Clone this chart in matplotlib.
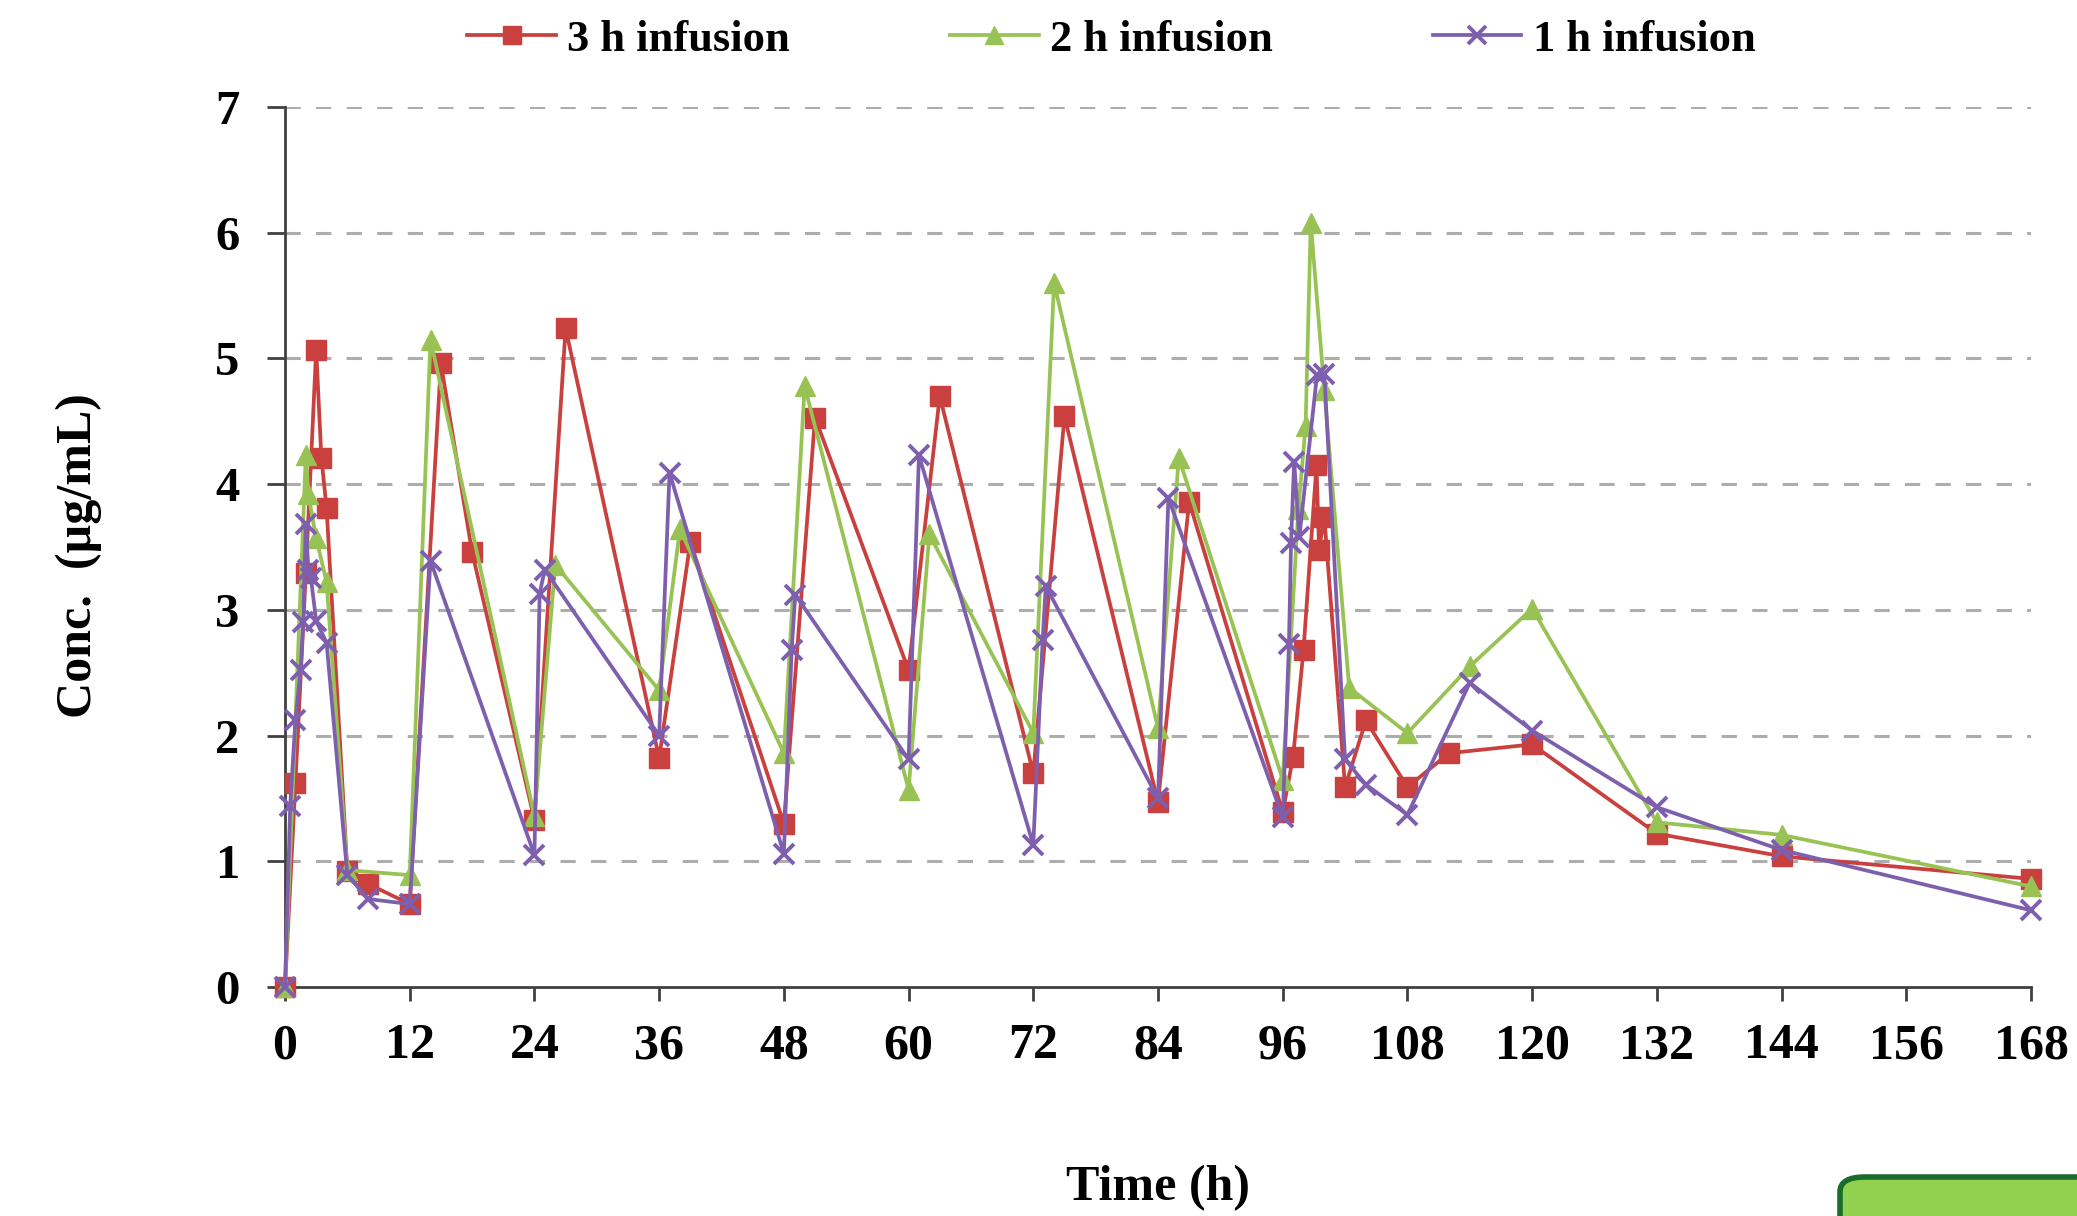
import matplotlib
matplotlib.use("Agg")
import matplotlib.pyplot as plt
from matplotlib.patches import FancyBboxPatch

# ---------------- data ----------------
t_3h = [0, 1, 2, 3, 3.5, 4, 6, 8, 12, 15, 18, 24, 27, 36, 39, 48, 51, 60, 63, 72, 75,
        84, 87, 96, 97, 98, 99.25, 99.5, 100, 102, 104, 108, 112, 120, 132, 144, 168]
c_3h = [0, 1.62, 3.29, 5.07, 4.21, 3.81, 0.92, 0.82, 0.66, 4.96, 3.46, 1.33, 5.24, 1.82, 3.54,
        1.30, 4.53, 2.52, 4.70, 1.70, 4.54, 1.47, 3.86, 1.39, 1.83, 2.68, 4.15, 3.48, 3.74,
        1.59, 2.12, 1.59, 1.86, 1.93, 1.22, 1.04, 0.86]

t_2h = [0, 2, 2.25, 3, 4, 6, 12, 14, 24, 26, 36, 38, 48, 50, 60, 62, 72, 74, 84, 86,
        96, 97.5, 98.2, 98.7, 100, 102.4, 108, 114, 120, 132, 144, 168]
c_2h = [0, 4.23, 3.92, 3.57, 3.22, 0.93, 0.89, 5.15, 1.36, 3.36, 2.36, 3.64, 1.86, 4.78,
        1.57, 3.60, 2.02, 5.60, 2.06, 4.21, 1.65, 3.80, 4.46, 6.08, 4.75, 2.38, 2.02, 2.55,
        3.01, 1.31, 1.21, 0.80]

t_1h = [0, 0.5, 1, 1.5, 1.75, 2, 2.25, 2.5, 3, 4, 6, 8, 12, 14, 24, 24.5, 25, 36, 37,
        48, 48.75, 49.1, 60, 61, 72, 72.9, 73.2, 84, 85, 96, 96.6, 96.8, 97.1, 97.6,
        99.3, 100, 102, 104, 108, 114, 120, 132, 144, 168]
c_1h = [0, 1.44, 2.12, 2.52, 2.90, 3.68, 3.32, 3.25, 2.91, 2.74, 0.89, 0.70, 0.66, 3.39,
        1.05, 3.13, 3.32, 2.00, 4.09, 1.06, 2.68, 3.12, 1.81, 4.23, 1.13, 2.76, 3.19,
        1.50, 3.89, 1.35, 2.73, 3.53, 4.18, 3.58, 4.87, 4.88, 1.81, 1.61, 1.37, 2.42,
        2.04, 1.43, 1.09, 0.61]

series_labels = ["3 h infusion", "2 h infusion", "1 h infusion"]
x_ticks = list(range(0, 169, 12))
y_ticks = list(range(0, 8))

# ---------------- style ----------------
plt.rcParams['font.family'] = ['Liberation Serif', 'DejaVu Serif']
plt.rcParams['font.weight'] = 'bold'

RED = '#C9403E'
GREEN = '#98C354'
PURPLE = '#7D5FAE'

W, H = 2077, 1216
fig = plt.figure(figsize=(W / 100, H / 100), dpi=100)
ax = fig.add_axes([285 / W, 229 / H, (2031 - 285) / W, (987 - 107) / H])

lw = 2.7
ax.plot(t_3h, c_3h, color=RED, lw=lw, marker='s', markersize=14,
        markerfacecolor=RED, markeredgecolor=RED, label=series_labels[0],
        clip_on=False, zorder=3)
ax.plot(t_2h, c_2h, color=GREEN, lw=lw, marker='^', markersize=15,
        markerfacecolor=GREEN, markeredgecolor=GREEN, label=series_labels[1],
        clip_on=False, zorder=4)
ax.plot(t_1h, c_1h, color=PURPLE, lw=lw, marker='x', markersize=14,
        markeredgewidth=2.8, label=series_labels[2], clip_on=False, zorder=5)

ax.set_xlim(0, 168)
ax.set_ylim(0, 7)
ax.set_xticks(x_ticks)
ax.set_yticks(y_ticks)

for yv in y_ticks[1:]:
    ax.axhline(yv, color='#ADADAD', lw=2.2, linestyle=(0, (5, 5)), zorder=1)

for s in ['top', 'right']:
    ax.spines[s].set_visible(False)
for s in ['left', 'bottom']:
    ax.spines[s].set_color('#404040')
    ax.spines[s].set_linewidth(2.0)

ax.tick_params(axis='y', direction='out', length=13, width=2, color='#404040',
               labelsize=35, pad=20)
ax.tick_params(axis='x', direction='out', length=10, width=2, color='#404040',
               labelsize=36, pad=16)
for lab in ax.get_xticklabels() + ax.get_yticklabels():
    lab.set_fontweight('bold')

ax.set_xlabel('Time (h)', fontsize=36, fontweight='bold')
ax.xaxis.set_label_coords(0.5, (28 - 229) / 880)
ax.xaxis.label.set_va('center')
ax.set_ylabel('Conc.  (µg/mL)', fontsize=36, fontweight='bold')
ax.yaxis.set_label_coords((79 - 285) / 1746, 0.49)
ax.yaxis.label.set_va('center')

leg = fig.legend(loc='center', bbox_to_anchor=(0.535, 1 - 40 / H), ncol=3,
                 frameon=False, prop={'size': 32, 'weight': 'bold'},
                 handlelength=2.0, handletextpad=0.25, columnspacing=3.6,
                 markerscale=0.9)

# decorative green box at the bottom right corner
box = FancyBboxPatch((1840 / W, -0.05), 0.2, (1216 - 1177) / H + 0.05,
                     boxstyle="round,pad=0,rounding_size=0.012",
                     transform=fig.transFigure, facecolor='#92D050',
                     edgecolor='#1B6B2A', linewidth=4, clip_on=False)
fig.patches.append(box)

fig.savefig('out.png', dpi=100)
